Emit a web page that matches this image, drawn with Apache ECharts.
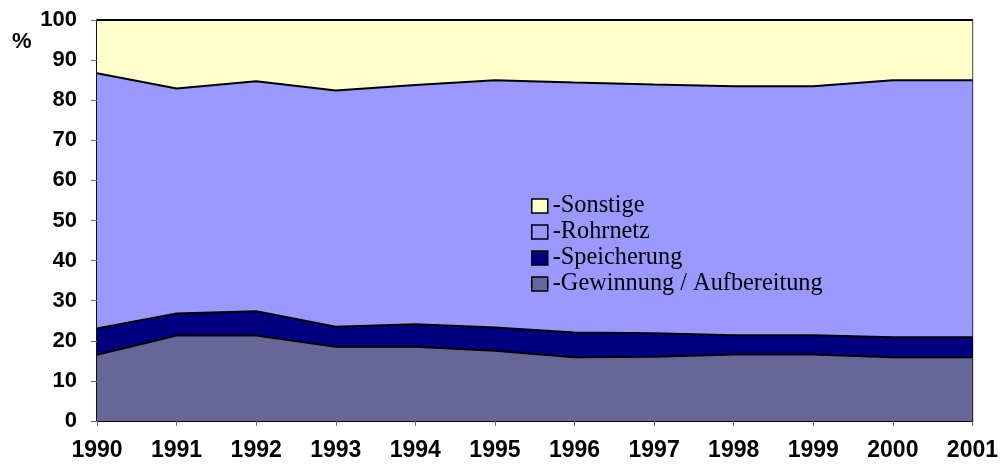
<!DOCTYPE html>
<html>
<head>
<meta charset="utf-8">
<script src="https://cdn.jsdelivr.net/npm/echarts@6/dist/echarts.min.js"></script>
<style>
  html, body { margin: 0; padding: 0; background: #fff; }
  #chart { width: 1001px; height: 465px; }
</style>
</head>
<body>
<div id="chart"></div>
<script>
// Jahre
var years = ['1990', '1991', '1992', '1993', '1994', '1995', '1996', '1997', '1998', '1999', '2000', '2001'];
// Anteile in % (gestapelt, von unten nach oben)
var gewinnung = [16.5, 21.3, 21.3, 18.5, 18.5, 17.5, 15.9, 16.0, 16.6, 16.6, 15.9, 15.9];
var speicherung = [6.6, 5.5, 6.1, 5.0, 5.6, 5.8, 6.2, 5.9, 4.8, 4.8, 5.0, 5.0];
var rohrnetz = [63.6, 56.1, 57.3, 58.9, 59.7, 61.7, 62.3, 62.0, 62.1, 62.1, 64.1, 64.1];
var sonstige = [13.3, 17.1, 15.3, 17.6, 16.2, 15.0, 15.6, 16.1, 16.5, 16.5, 15.0, 15.0];
var legendOrder = ['-Sonstige', '-Rohrnetz', '-Speicherung', '-Gewinnung / Aufbereitung'];

var chart = echarts.init(document.getElementById('chart'));

function band(name, data, color) {
  return {
    name: name,
    type: 'line',
    stack: 'gesamt',
    data: data,
    symbol: 'none',
    animation: false,
    itemStyle: { color: color },
    lineStyle: { color: '#000', width: 2 },
    areaStyle: { color: color, opacity: 1 }
  };
}

chart.setOption({
  animation: false,
  grid: {
    left: 97,
    right: 25,
    top: 20,
    bottom: 44,
    show: true,
    borderColor: '#000',
    borderWidth: 1.5,
    backgroundColor: 'transparent'
  },
  legend: {
    data: legendOrder,
    orient: 'vertical',
    left: 526,
    top: 189,
    icon: 'rect',
    itemWidth: 16,
    itemHeight: 14,
    itemGap: 2,
    itemStyle: { borderColor: '#000', borderWidth: 1.5 },
    textStyle: { fontFamily: 'Liberation Serif', fontSize: 24.3, lineHeight: 21, color: '#000' }
  },
  graphic: [{
    type: 'text',
    left: 12,
    top: 31,
    style: { text: '%', font: 'bold 22px "Liberation Sans"', fill: '#000' }
  }],
  xAxis: {
    type: 'category',
    data: years,
    boundaryGap: false,
    axisLine: { lineStyle: { color: '#000', width: 2 } },
    axisTick: { show: true, length: 5, lineStyle: { color: '#666' } },
    axisLabel: {
      margin: 18,
      fontFamily: 'Liberation Sans',
      fontWeight: 'bold',
      fontSize: 23,
      color: '#000',
      showMinLabel: true,
      showMaxLabel: true
    },
    splitLine: { show: false }
  },
  yAxis: {
    type: 'value',
    min: 0,
    max: 100,
    interval: 10,
    axisLine: { show: true, lineStyle: { color: '#000', width: 1.5 } },
    axisTick: { show: true, length: 6, lineStyle: { color: '#666' } },
    axisLabel: {
      margin: 20,
      fontFamily: 'Liberation Sans',
      fontWeight: 'bold',
      fontSize: 22,
      color: '#000'
    },
    splitLine: { show: false }
  },
  series: [
    band('-Gewinnung / Aufbereitung', gewinnung, '#666699'),
    band('-Speicherung', speicherung, '#000080'),
    band('-Rohrnetz', rohrnetz, '#9999FF'),
    band('-Sonstige', sonstige, '#FFFFCC')
  ]
});
</script>
</body>
</html>
